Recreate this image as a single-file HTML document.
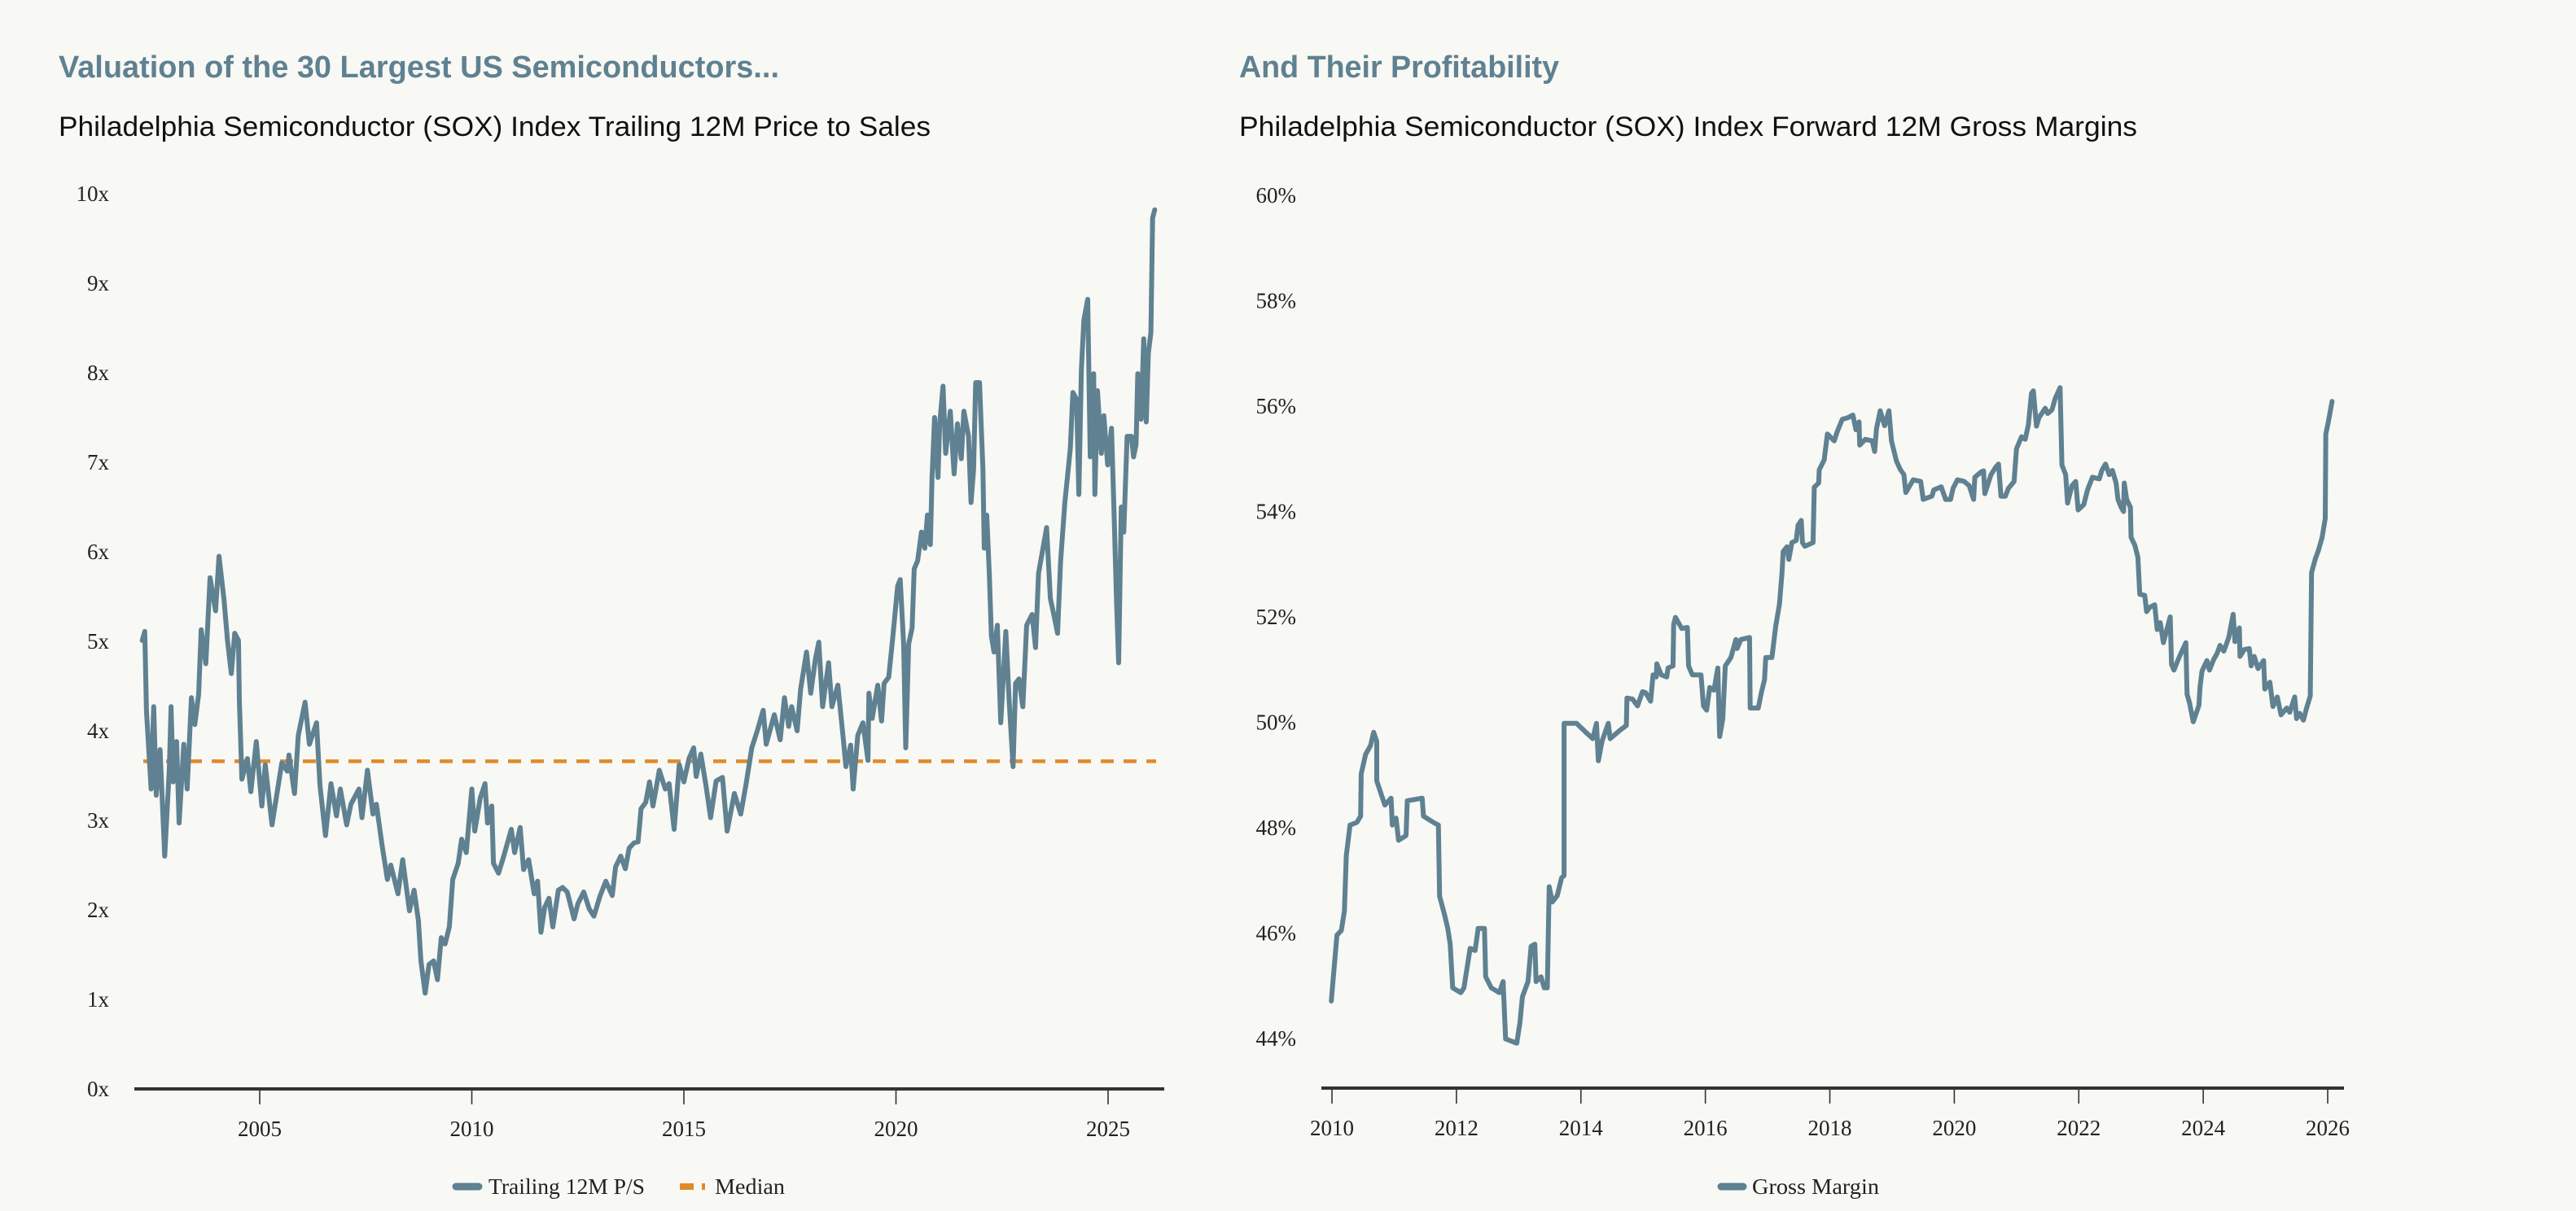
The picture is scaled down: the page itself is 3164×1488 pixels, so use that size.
<!DOCTYPE html>
<html><head><meta charset="utf-8"><style>
html,body{margin:0;padding:0;background:#f8f8f4;}
svg{display:block;}
.title{font-family:"Liberation Sans",sans-serif;font-weight:bold;fill:#5f8191;}
.sub{font-family:"Liberation Sans",sans-serif;fill:#111;}
.tick{font-family:"Liberation Serif",serif;font-size:27px;fill:#222;}
</style></head><body>
<svg id="chart" width="3164" height="1488" viewBox="0 0 3164 1488" xmlns="http://www.w3.org/2000/svg">
<rect width="3164" height="1488" fill="#f8f8f4"/>
<text class="title" x="72" y="95" font-size="38" textLength="885" lengthAdjust="spacingAndGlyphs">Valuation of the 30 Largest US Semiconductors...</text>
<text class="sub" x="72" y="167" font-size="34" textLength="1071" lengthAdjust="spacingAndGlyphs">Philadelphia Semiconductor (SOX) Index Trailing 12M Price to Sales</text>
<text class="title" x="1522" y="95" font-size="38" textLength="393" lengthAdjust="spacingAndGlyphs">And Their Profitability</text>
<text class="sub" x="1522" y="167" font-size="34" textLength="1103" lengthAdjust="spacingAndGlyphs">Philadelphia Semiconductor (SOX) Index Forward 12M Gross Margins</text>
<g id="left"></g>
<g id="right"></g>
<g>
<line x1="560" y1="1458" x2="588" y2="1458" stroke="#5f8191" stroke-width="9" stroke-linecap="round"/>
<text class="tick" x="600" y="1467" font-size="28" textLength="192" lengthAdjust="spacingAndGlyphs">Trailing 12M P/S</text>
<line x1="835" y1="1458" x2="852" y2="1458" stroke="#e08a2c" stroke-width="8"/>
<line x1="862" y1="1458" x2="866" y2="1458" stroke="#e08a2c" stroke-width="8"/>
<text class="tick" x="878" y="1467" font-size="28" textLength="86" lengthAdjust="spacingAndGlyphs">Median</text>
</g>
<g>
<line x1="2114" y1="1458" x2="2141" y2="1458" stroke="#5f8191" stroke-width="9" stroke-linecap="round"/>
<text class="tick" x="2152" y="1467" font-size="28" textLength="156" lengthAdjust="spacingAndGlyphs">Gross Margin</text>
</g>
</svg>
<script>
const psYears=[2002.23,2002.29,2002.33,2002.44,2002.5,2002.56,2002.65,2002.76,2002.87,2002.91,2002.96,2003.04,2003.1,2003.21,2003.29,2003.39,2003.47,2003.56,2003.62,2003.73,2003.83,2003.96,2004.04,2004.16,2004.24,2004.33,2004.41,2004.5,2004.52,2004.58,2004.71,2004.79,2004.92,2005.05,2005.13,2005.29,2005.52,2005.65,2005.69,2005.82,2005.91,2006.07,2006.17,2006.34,2006.42,2006.55,2006.68,2006.81,2006.9,2007.05,2007.15,2007.34,2007.41,2007.54,2007.67,2007.75,2007.88,2008.01,2008.09,2008.26,2008.37,2008.53,2008.64,2008.74,2008.8,2008.9,2008.99,2009.1,2009.19,2009.28,2009.37,2009.47,2009.55,2009.68,2009.76,2009.87,2010.0,2010.07,2010.2,2010.31,2010.37,2010.47,2010.51,2010.63,2010.74,2010.93,2011.01,2011.14,2011.22,2011.34,2011.47,2011.55,2011.63,2011.72,2011.82,2011.91,2012.04,2012.14,2012.25,2012.41,2012.5,2012.64,2012.77,2012.88,2013.02,2013.16,2013.31,2013.39,2013.51,2013.62,2013.71,2013.83,2013.92,2013.99,2014.1,2014.19,2014.27,2014.42,2014.56,2014.65,2014.77,2014.89,2015.0,2015.12,2015.23,2015.29,2015.4,2015.52,2015.63,2015.76,2015.91,2016.02,2016.19,2016.34,2016.46,2016.6,2016.73,2016.87,2016.94,2017.13,2017.27,2017.37,2017.47,2017.54,2017.67,2017.75,2017.89,2017.99,2018.1,2018.18,2018.27,2018.41,2018.49,2018.63,2018.76,2018.82,2018.93,2018.99,2019.1,2019.22,2019.34,2019.36,2019.44,2019.57,2019.66,2019.72,2019.83,2019.92,2020.04,2020.1,2020.18,2020.23,2020.3,2020.38,2020.43,2020.51,2020.6,2020.68,2020.74,2020.81,2020.85,2020.91,2020.99,2021.03,2021.11,2021.17,2021.28,2021.37,2021.45,2021.54,2021.6,2021.71,2021.77,2021.83,2021.88,2021.97,2022.05,2022.08,2022.14,2022.2,2022.25,2022.31,2022.39,2022.47,2022.59,2022.67,2022.76,2022.82,2022.9,2022.99,2023.08,2023.21,2023.29,2023.36,2023.44,2023.55,2023.64,2023.72,2023.81,2023.88,2023.98,2024.05,2024.11,2024.17,2024.26,2024.31,2024.37,2024.43,2024.52,2024.58,2024.66,2024.69,2024.75,2024.84,2024.9,2024.99,2025.08,2025.14,2025.2,2025.25,2025.31,2025.37,2025.45,2025.55,2025.6,2025.66,2025.7,2025.78,2025.84,2025.9,2025.95,2026.01,2026.05,2026.1];
const psValues=[5.01,5.11,4.22,3.35,4.27,3.28,3.79,2.6,3.58,4.27,3.43,3.88,2.97,3.85,3.35,4.37,4.07,4.41,5.13,4.75,5.71,5.34,5.95,5.46,5.01,4.64,5.09,5.01,4.34,3.46,3.69,3.32,3.88,3.16,3.62,2.95,3.64,3.55,3.73,3.3,3.95,4.32,3.85,4.09,3.39,2.83,3.41,3.05,3.35,2.95,3.18,3.35,3.03,3.56,3.07,3.18,2.74,2.34,2.5,2.18,2.56,1.99,2.22,1.88,1.43,1.07,1.39,1.43,1.22,1.69,1.62,1.81,2.34,2.52,2.79,2.64,3.35,2.88,3.25,3.41,2.97,3.16,2.52,2.41,2.58,2.9,2.64,2.92,2.45,2.56,2.18,2.32,1.75,2.03,2.13,1.81,2.22,2.25,2.2,1.9,2.07,2.2,2.01,1.93,2.15,2.32,2.16,2.48,2.6,2.46,2.69,2.75,2.76,3.13,3.2,3.43,3.16,3.56,3.35,3.41,2.9,3.62,3.43,3.69,3.81,3.49,3.74,3.39,3.03,3.44,3.48,2.88,3.3,3.07,3.39,3.81,4.0,4.23,3.85,4.18,3.9,4.37,4.05,4.27,4.0,4.46,4.88,4.42,4.8,4.99,4.27,4.76,4.27,4.51,3.9,3.6,3.84,3.35,3.95,4.09,3.67,4.42,4.14,4.51,4.11,4.53,4.6,5.02,5.62,5.69,4.97,3.81,4.97,5.15,5.81,5.9,6.22,6.04,6.41,6.08,6.83,7.5,6.83,7.43,7.85,7.1,7.57,6.87,7.43,7.04,7.57,7.29,6.55,6.92,7.89,7.89,6.92,6.04,6.41,5.76,5.06,4.88,5.18,4.09,5.11,4.32,3.6,4.53,4.58,4.27,5.18,5.3,4.93,5.76,5.97,6.27,5.48,5.3,5.09,5.88,6.55,6.87,7.15,7.78,7.7,6.64,8.03,8.59,8.82,7.06,7.99,6.64,7.8,7.1,7.52,6.97,7.38,6.45,5.44,4.76,6.5,6.22,7.29,7.29,7.06,7.2,7.99,7.48,8.38,7.45,8.22,8.45,9.73,9.82];
const psMedian=[3.66];
const psYTicks=[0,1,2,3,4,5,6,7,8,9,10];
const psYTickLabels=["0x","1x","2x","3x","4x","5x","6x","7x","8x","9x","10x"];
const psXTicks=[2005,2010,2015,2020,2025];
const gmYears=[2009.99,2010.02,2010.08,2010.15,2010.2,2010.23,2010.29,2010.4,2010.46,2010.47,2010.54,2010.62,2010.67,2010.72,2010.72,2010.8,2010.85,2010.95,2010.97,2011.03,2011.07,2011.19,2011.21,2011.45,2011.47,2011.63,2011.71,2011.73,2011.81,2011.86,2011.9,2011.94,2012.07,2012.12,2012.22,2012.3,2012.35,2012.45,2012.47,2012.56,2012.69,2012.75,2012.79,2012.97,2013.02,2013.06,2013.15,2013.2,2013.26,2013.28,2013.36,2013.41,2013.46,2013.49,2013.54,2013.62,2013.69,2013.73,2013.73,2013.93,2014.08,2014.19,2014.25,2014.28,2014.34,2014.44,2014.47,2014.63,2014.73,2014.74,2014.83,2014.91,2014.99,2015.04,2015.12,2015.16,2015.21,2015.22,2015.29,2015.38,2015.4,2015.48,2015.49,2015.52,2015.62,2015.71,2015.73,2015.79,2015.93,2015.97,2016.02,2016.07,2016.14,2016.2,2016.23,2016.28,2016.32,2016.41,2016.49,2016.51,2016.57,2016.71,2016.72,2016.85,2016.9,2016.95,2016.97,2017.07,2017.13,2017.19,2017.23,2017.25,2017.31,2017.34,2017.39,2017.46,2017.49,2017.54,2017.56,2017.6,2017.73,2017.75,2017.82,2017.83,2017.91,2017.96,2018.07,2018.12,2018.2,2018.29,2018.37,2018.42,2018.47,2018.48,2018.57,2018.68,2018.72,2018.75,2018.81,2018.88,2018.95,2018.99,2019.07,2019.13,2019.19,2019.22,2019.34,2019.46,2019.5,2019.64,2019.67,2019.79,2019.86,2019.94,2019.98,2020.05,2020.16,2020.24,2020.31,2020.33,2020.43,2020.47,2020.49,2020.59,2020.67,2020.71,2020.75,2020.82,2020.87,2020.96,2021.0,2021.08,2021.14,2021.19,2021.24,2021.27,2021.32,2021.36,2021.46,2021.5,2021.57,2021.62,2021.7,2021.73,2021.79,2021.82,2021.89,2021.95,2021.99,2022.08,2022.14,2022.22,2022.33,2022.37,2022.43,2022.49,2022.54,2022.6,2022.63,2022.68,2022.72,2022.73,2022.77,2022.83,2022.84,2022.9,2022.95,2022.98,2023.06,2023.09,2023.14,2023.22,2023.26,2023.31,2023.36,2023.47,2023.49,2023.53,2023.6,2023.65,2023.72,2023.74,2023.78,2023.84,2023.93,2023.95,2023.98,2024.06,2024.1,2024.17,2024.22,2024.27,2024.33,2024.41,2024.48,2024.51,2024.58,2024.59,2024.66,2024.74,2024.77,2024.82,2024.88,2024.97,2024.99,2025.07,2025.12,2025.19,2025.25,2025.34,2025.39,2025.47,2025.5,2025.55,2025.61,2025.66,2025.72,2025.74,2025.8,2025.85,2025.91,2025.96,2025.97,2026.01,2026.07];
const gmValues=[44.71,45.13,45.96,46.05,46.42,47.47,48.05,48.1,48.22,49.02,49.39,49.56,49.81,49.64,48.89,48.6,48.43,48.56,48.05,48.18,47.76,47.85,48.51,48.56,48.22,48.1,48.05,46.7,46.34,46.09,45.79,44.96,44.87,44.96,45.71,45.67,46.09,46.09,45.17,44.96,44.87,45.08,43.99,43.91,44.29,44.79,45.08,45.75,45.79,45.08,45.17,44.96,44.96,46.88,46.59,46.71,47.05,47.09,49.98,49.98,49.81,49.69,49.98,49.27,49.64,49.98,49.69,49.85,49.94,50.46,50.44,50.31,50.58,50.56,50.4,50.9,50.86,51.11,50.9,50.86,51.03,51.07,51.86,51.99,51.78,51.8,51.07,50.9,50.9,50.31,50.23,50.66,50.61,51.03,49.73,50.06,51.07,51.23,51.57,51.4,51.57,51.61,50.27,50.27,50.56,50.81,51.23,51.23,51.82,52.24,52.82,53.24,53.33,53.09,53.41,53.45,53.74,53.83,53.41,53.34,53.41,54.46,54.54,54.79,54.98,55.47,55.34,55.52,55.75,55.78,55.83,55.55,55.7,55.26,55.37,55.34,55.14,55.57,55.91,55.63,55.91,55.34,54.96,54.8,54.7,54.36,54.6,54.57,54.23,54.29,54.41,54.47,54.23,54.23,54.44,54.6,54.57,54.49,54.23,54.65,54.75,54.77,54.34,54.7,54.85,54.9,54.29,54.29,54.44,54.57,55.19,55.42,55.37,55.65,56.24,56.29,55.62,55.78,55.96,55.86,55.93,56.14,56.35,54.88,54.7,54.16,54.49,54.57,54.03,54.13,54.41,54.65,54.62,54.78,54.9,54.7,54.78,54.54,54.23,54.08,54.0,54.54,54.23,54.08,53.51,53.36,53.13,52.43,52.41,52.1,52.18,52.23,51.76,51.89,51.51,52.0,51.1,50.99,51.2,51.33,51.51,50.53,50.37,50.01,50.32,50.68,50.97,51.17,50.99,51.2,51.3,51.46,51.35,51.61,52.05,51.53,51.79,51.25,51.38,51.4,51.07,51.25,51.02,51.17,50.63,50.76,50.3,50.48,50.14,50.27,50.19,50.48,50.07,50.17,50.04,50.27,50.5,52.84,53.1,53.26,53.51,53.87,55.47,55.7,56.09];
const gmYTicks=[44,46,48,50,52,54,56,58,60];
const gmYTickLabels=["44%","46%","48%","50%","52%","54%","56%","58%","60%"];
const gmXTicks=[2010,2012,2014,2016,2018,2020,2022,2024,2026];

const NS="http://www.w3.org/2000/svg";
function mk(tag,attrs,parent){const e=document.createElementNS(NS,tag);for(const k in attrs)e.setAttribute(k,attrs[k]);parent.appendChild(e);return e;}

// Left axes
const lx=y=>319+(y-2005)*52.1;
const ly=v=>1338-v*110;
// Right axes
const rx=y=>1636+(y-2010)*76.44;
const ry=v=>1276-(v-44)*64.75;

function drawChart(g,xs,ys,years,values,xTicks,yTicks,yLabels,axisX0,axisX1,axisY,labelRight,sname){
  // y labels
  yTicks.forEach((t,i)=>{
    const tx=mk('text',{x:labelRight,y:ys(t)+9,'text-anchor':'end',class:'tick'},g);
    tx.textContent=yLabels[i];
    
    
  });
  // x ticks
  xTicks.forEach(t=>{
    const ln=mk('line',{x1:xs(t),x2:xs(t),y1:axisY,y2:axisY+19,stroke:'#333','stroke-width':1.6},g);
    
    
    const tx=mk('text',{x:xs(t),y:axisY+58,'text-anchor':'middle',class:'tick','font-size':28},g);
    tx.textContent=String(t);
    
    
  });
  const ax=mk('line',{x1:axisX0,x2:axisX1,y1:axisY,y2:axisY,stroke:'#333','stroke-width':4},g);
  
  
  const d=years.map((y,i)=>(i?'L':'M')+xs(y).toFixed(1)+' '+ys(values[i]).toFixed(1)).join(' ');
  const p=mk('path',{d:d,fill:'none',stroke:'#5f8191','stroke-width':6,'stroke-linejoin':'round','stroke-linecap':'round'},g);
  
  
  return p;
}
const L=document.getElementById('left');
const R=document.getElementById('right');
const med=mk('line',{x1:176,x2:1420,y1:ly(psMedian[0]),y2:ly(psMedian[0]),stroke:'#e08a2c','stroke-width':4.5,'stroke-dasharray':'16 12'},L);


drawChart(L,lx,ly,psYears,psValues,psXTicks,psYTicks,psYTickLabels,165,1430,1338,134,'ps-line');
drawChart(R,rx,ry,gmYears,gmValues,gmXTicks,gmYTicks,gmYTickLabels,1623,2879,1337,1592,'gross-margin-line');
</script>
</body></html>
